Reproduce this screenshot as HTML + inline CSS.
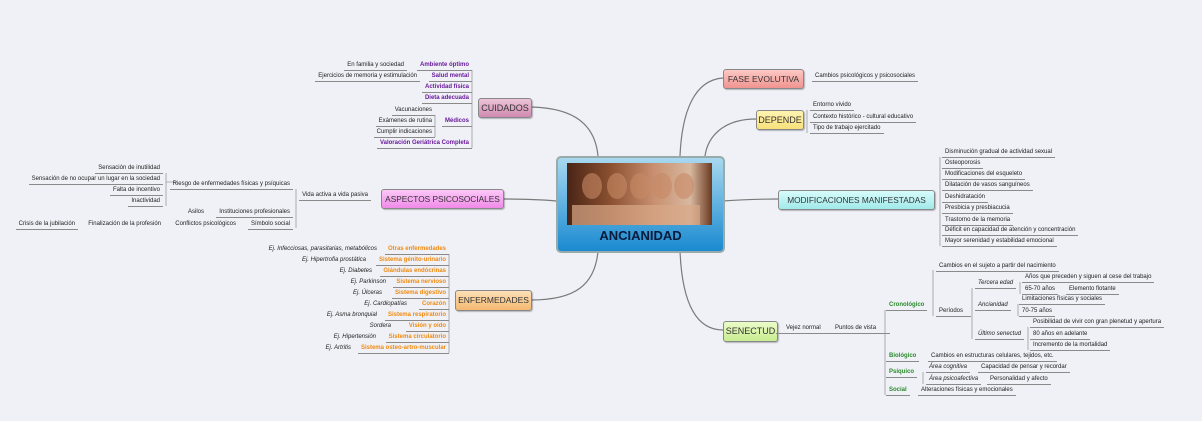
<!DOCTYPE html>
<html><head><meta charset="utf-8"><style>
body{margin:0;width:1202px;height:421px;background:#eff1f7;position:relative;overflow:hidden;font-family:"Liberation Sans",sans-serif}
.t{position:absolute;font-size:6px;line-height:7px;white-space:nowrap;color:#222;border-bottom:1px solid #8a8a8a;padding:0 3px 1px 3px}
.n{border-bottom:none}
.p{color:#6a1a9a;font-weight:bold}
.o{color:#f08a10;font-weight:bold}
.g{color:#2a8a2a;font-weight:bold}
.i{font-style:italic}
.b{position:absolute;border:1px solid #888;border-radius:3px;font-size:9.5px;color:#333;text-align:center;white-space:nowrap;box-shadow:1px 1px 1px rgba(0,0,0,.25)}
svg{position:absolute;left:0;top:0}
</style></head><body>
<svg width="1202" height="421" fill="none" stroke="#7a7a7a" stroke-width="1.2">
<path d="M531 107 C575 108 595 125 598 156"/>
<path d="M503 199 C530 199 545 200 556 201"/>
<path d="M531 300 C575 300 595 285 598 251"/>
<path d="M723 78 C695 80 682 110 680 156"/>
<path d="M756 119 C725 119 708 135 705 156"/>
<path d="M778 199 C755 199 738 200 723 201"/>
<path d="M723 330 C695 330 682 300 680 251"/>
<g stroke="#999" stroke-width="0.8">
<path d="M472 70 V148 M435 115 V137 M296 189 V228 M166 173 V206 M166 182 H177"/>
<path d="M449 254 V353"/>
<path d="M807 110 V133 M940 157 V246"/>
<path d="M885 310 V395 M933 270 V316 M972 288 V339 M1020 282 V294 M1018 304 V316 M1028 327 V350 M923 372 V384"/>
</g>
</svg>

<!-- center -->
<div style="position:absolute;left:556px;top:156px;width:165px;height:93px;border:2px solid #9aa;border-radius:5px;background:linear-gradient(#a8d8f0,#1a8ad0)"></div>
<div style="position:absolute;left:567px;top:163px;width:145px;height:62px;background:linear-gradient(90deg,#4a2416,#8a5030 30%,#c89070 60%,#d8b8a0 85%,#6a3a20)"></div>
<svg width="1202" height="421" style="pointer-events:none">
<g fill="#c88a66" opacity="0.6">
<ellipse cx="592" cy="186" rx="10" ry="13"/><ellipse cx="617" cy="186" rx="10" ry="13"/>
<ellipse cx="640" cy="186" rx="10" ry="13"/><ellipse cx="662" cy="186" rx="10" ry="13"/>
<ellipse cx="684" cy="186" rx="10" ry="13"/>
</g>
<rect x="572" y="205" width="128" height="20" fill="#d8a888" opacity="0.7"/>
</svg>
<div style="position:absolute;left:556px;top:228px;width:169px;text-align:center;font-weight:bold;font-size:13px;color:#0a1a3a">ANCIANIDAD</div>

<!-- topic boxes -->
<div class="b" style="left:478px;top:98px;width:52px;height:18px;line-height:18px;font-size:9px;background:linear-gradient(#ecc4d8,#d08ab0)">CUIDADOS</div>
<div class="b" style="left:381px;top:189px;width:121px;height:18px;line-height:18px;font-size:8.3px;background:linear-gradient(#fcc8f8,#f08ae8)">ASPECTOS PSICOSOCIALES</div>
<div class="b" style="left:455px;top:290px;width:75px;height:19px;line-height:19px;font-size:8.5px;background:linear-gradient(#fde0b8,#f4b870)">ENFERMEDADES</div>
<div class="b" style="left:723px;top:69px;width:79px;height:18px;line-height:18px;font-size:8.5px;background:linear-gradient(#fcc8c4,#f09490)">FASE EVOLUTIVA</div>
<div class="b" style="left:756px;top:110px;width:46px;height:18px;line-height:18px;font-size:9px;background:linear-gradient(#fff4b0,#f8e07a)">DEPENDE</div>
<div class="b" style="left:778px;top:190px;width:155px;height:18px;line-height:18px;font-size:8.3px;background:linear-gradient(#d8fcfc,#a0eaea)">MODIFICACIONES MANIFESTADAS</div>
<div class="b" style="left:723px;top:321px;width:53px;height:19px;line-height:19px;font-size:9px;background:linear-gradient(#ecfcc8,#c8ec90)">SENECTUD</div>

<!-- CUIDADOS -->
<div class="t p" style="right:730px;top:62px">Ambiente óptimo</div>
<div class="t" style="right:795px;top:62px">En familia y sociedad</div>
<div class="t p" style="right:730px;top:73px">Salud mental</div>
<div class="t" style="right:782px;top:73px">Ejercicios de memoria y estimulación</div>
<div class="t p" style="right:730px;top:84px">Actividad física</div>
<div class="t p" style="right:730px;top:95px">Dieta adecuada</div>
<div class="t p" style="right:730px;top:118px">Médicos</div>
<div class="t" style="right:767px;top:107px">Vacunaciones</div>
<div class="t" style="right:767px;top:118px">Exámenes de rutina</div>
<div class="t" style="right:767px;top:129px">Cumplir indicaciones</div>
<div class="t p" style="right:730px;top:140px">Valoración Geriátrica Completa</div>

<!-- ASPECTOS -->
<div class="t" style="right:831px;top:192px">Vida activa a vida pasiva</div>
<div class="t" style="right:909px;top:181px">Riesgo de enfermedades físicas y psíquicas</div>
<div class="t" style="right:1039px;top:165px">Sensación de inutilidad</div>
<div class="t" style="right:1039px;top:176px">Sensación de no ocupar un lugar en la sociedad</div>
<div class="t" style="right:1039px;top:187px">Falta de incentivo</div>
<div class="t" style="right:1039px;top:198px">Inactividad</div>
<div class="t" style="right:909px;top:209px">Instituciones profesionales</div>
<div class="t n" style="right:995px;top:209px">Asilos</div>
<div class="t" style="right:909px;top:221px">Símbolo social</div>
<div class="t n" style="right:963px;top:221px">Conflictos psicológicos</div>
<div class="t n" style="right:1038px;top:221px">Finalización de la profesión</div>
<div class="t" style="right:1124px;top:221px">Crisis de la jubilación</div>

<!-- ENFERMEDADES -->
<div class="t o" style="right:753px;top:246px">Otras enfermedades</div><div class="t i n" style="right:822px;top:246px">Ej. Infecciosas, parasitarias, metabólicos</div>
<div class="t o" style="right:753px;top:257px">Sistema génito-urinario</div><div class="t i n" style="right:833px;top:257px">Ej. Hipertrofia prostática</div>
<div class="t o" style="right:753px;top:268px">Glándulas endócrinas</div><div class="t i n" style="right:827px;top:268px">Ej. Diabetes</div>
<div class="t o" style="right:753px;top:279px">Sistema nervioso</div><div class="t i n" style="right:813px;top:279px">Ej. Parkinson</div>
<div class="t o" style="right:753px;top:290px">Sistema digestivo</div><div class="t i n" style="right:817px;top:290px">Ej. Úlceras</div>
<div class="t o" style="right:753px;top:301px">Corazón</div><div class="t i n" style="right:792px;top:301px">Ej. Cardiopatías</div>
<div class="t o" style="right:753px;top:312px">Sistema respiratorio</div><div class="t i n" style="right:822px;top:312px">Ej. Asma bronquial</div>
<div class="t o" style="right:753px;top:323px">Visión y oído</div><div class="t i n" style="right:808px;top:323px">Sordera</div>
<div class="t o" style="right:753px;top:334px">Sistema circulatorio</div><div class="t i n" style="right:823px;top:334px">Ej. Hipertensión</div>
<div class="t o" style="right:753px;top:345px">Sistema osteo-artro-muscular</div><div class="t i n" style="right:848px;top:345px">Ej. Artritis</div>

<!-- right side -->
<div class="t" style="left:812px;top:73px">Cambios psicológicos y psicosociales</div>
<div class="t" style="left:810px;top:102px">Entorno vivido</div>
<div class="t" style="left:810px;top:114px">Contexto histórico - cultural educativo</div>
<div class="t" style="left:810px;top:125px">Tipo de trabajo ejercitado</div>

<div class="t" style="left:942px;top:149px">Disminución gradual de actividad sexual</div>
<div class="t" style="left:942px;top:160px">Osteoporosis</div>
<div class="t" style="left:942px;top:171px">Modificaciones del esqueleto</div>
<div class="t" style="left:942px;top:182px">Dilatación de vasos sanguíneos</div>
<div class="t" style="left:942px;top:194px">Deshidratación</div>
<div class="t" style="left:942px;top:205px">Presbicia y presbiacucia</div>
<div class="t" style="left:942px;top:217px">Trastorno de la memoria</div>
<div class="t" style="left:942px;top:227px">Déficit en capacidad de atención y concentración</div>
<div class="t" style="left:942px;top:238px">Mayor serenidad y estabilidad emocional</div>

<!-- SENECTUD -->
<div class="t" style="left:776px;top:325px;padding-left:10px">Vejez normal</div>
<div class="t" style="left:823px;top:325px;padding-left:12px;padding-right:14px">Puntos de vista</div>
<div class="t g" style="left:886px;top:302px">Cronológico</div>
<div class="t" style="left:936px;top:263px">Cambios en el sujeto a partir del nacimiento</div>
<div class="t" style="left:936px;top:308px;padding-right:8px">Períodos</div>
<div class="t i" style="left:975px;top:280px">Tercera edad</div>
<div class="t" style="left:1022px;top:274px">Años que preceden y siguen  al cese del trabajo</div>
<div class="t" style="left:1022px;top:286px">65-70 años</div><div class="t" style="left:1066px;top:286px">Elemento flotante</div>
<div class="t i" style="left:975px;top:302px">Ancianidad</div>
<div class="t" style="left:1019px;top:296px">Limitaciones físicas y sociales</div>
<div class="t" style="left:1019px;top:308px">70-75 años</div>
<div class="t i" style="left:975px;top:331px">Último senectud</div>
<div class="t" style="left:1030px;top:319px">Posibilidad de vivir con gran plenetud y apertura</div>
<div class="t" style="left:1030px;top:331px">80 años en adelante</div>
<div class="t" style="left:1030px;top:342px">Incremento de la mortalidad</div>
<div class="t g" style="left:886px;top:353px">Biológico</div>
<div class="t" style="left:928px;top:353px">Cambios en estructuras celulares, tejidos, etc.</div>
<div class="t g" style="left:886px;top:369px">Psíquico</div>
<div class="t i" style="left:926px;top:364px">Área cognitiva</div><div class="t" style="left:978px;top:364px">Capacidad de pensar y recordar</div>
<div class="t i" style="left:926px;top:376px">Área psicoafectiva</div><div class="t" style="left:987px;top:376px">Personalidad y afecto</div>
<div class="t g" style="left:886px;top:387px">Social</div>
<div class="t" style="left:918px;top:387px">Alteraciones físicas y emocionales</div>
</body></html>
